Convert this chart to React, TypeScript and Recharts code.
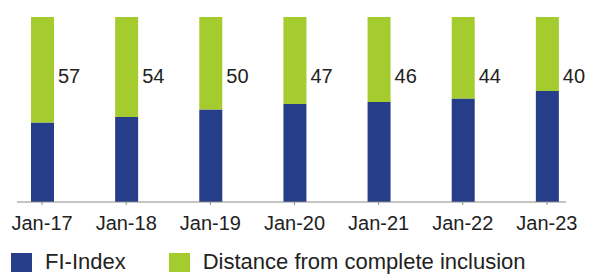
import React from "react";
import { BarChart, Bar, XAxis, YAxis, Legend, LabelList } from "recharts";

// 카테고리와 값
const months = ["Jan-17", "Jan-18", "Jan-19", "Jan-20", "Jan-21", "Jan-22", "Jan-23"];
const fiIndex = [43, 46, 50, 53, 54, 56, 60];
const distance = [57, 54, 50, 47, 46, 44, 40];
const seriesNames = ["FI-Index", "Distance from complete inclusion"];

const BLUE = "#263d8a";
const GREEN = "#a5cc2e";
const FONT = "'Liberation Sans', Arial, sans-serif";

const data = months.map((m, i) => ({
  month: m,
  fi: fiIndex[i],
  distance: distance[i],
}));

// 막대 오른쪽에 표시하는 값
const renderDistanceLabel = (props: any) => {
  const { x, y, width, value } = props;
  return (
    <text
      x={x + width + 4}
      y={y + 59}
      dy="0.36em"
      fontSize={20}
      fontFamily={FONT}
      fill="#222"
    >
      {value}
    </text>
  );
};

// 범례 (시리즈 순서대로)
const renderLegend = (props: any) => {
  const payload = [...(props.payload || [])].sort(
    (a: any, b: any) => seriesNames.indexOf(a.value) - seriesNames.indexOf(b.value)
  );
  return (
    <div style={{ display: "flex", alignItems: "center", paddingLeft: 11 }}>
      {payload.map((entry: any, i: number) => (
        <span
          key={entry.value}
          style={{
            display: "inline-flex",
            alignItems: "center",
            marginRight: i === 0 ? 43 : 0,
          }}
        >
          <span
            style={{
              display: "inline-block",
              width: 21,
              height: 19,
              background: entry.color,
              marginRight: 13,
            }}
          />
          <span
            style={{
              fontFamily: FONT,
              fontSize: 22,
              color: "#222",
              lineHeight: "24px",
            }}
          >
            {entry.value}
          </span>
        </span>
      ))}
    </div>
  );
};

const App = () => {
  return (
    <div style={{ position: "absolute", left: 0, top: 0, background: "#fff" }}>
      <BarChart
        width={589}
        height={275}
        data={data}
        margin={{ top: 17, right: 0, bottom: 45, left: 0 }}
      >
        <XAxis
          dataKey="month"
          height={28}
          tickSize={3}
          tickMargin={11}
          axisLine={{ stroke: "#8a8a8a", strokeDasharray: "0 17 549 60" }}
          tickLine={{ stroke: "#8a8a8a" }}
          tick={{ fontSize: 20, fontFamily: FONT, fill: "#222" }}
          interval={0}
        />
        <YAxis hide domain={[0, 100]} />
        <Legend
          verticalAlign="middle"
          align="center"
          wrapperStyle={{ top: 250, left: 0, width: 589 }}
          content={renderLegend}
        />
        <Bar
          dataKey="fi"
          name={seriesNames[0]}
          stackId="a"
          fill={BLUE}
          barSize={23}
          isAnimationActive={false}
        />
        <Bar
          dataKey="distance"
          name={seriesNames[1]}
          stackId="a"
          fill={GREEN}
          barSize={23}
          isAnimationActive={false}
        >
          <LabelList dataKey="distance" content={renderDistanceLabel} />
        </Bar>
      </BarChart>
    </div>
  );
};

export default App;
